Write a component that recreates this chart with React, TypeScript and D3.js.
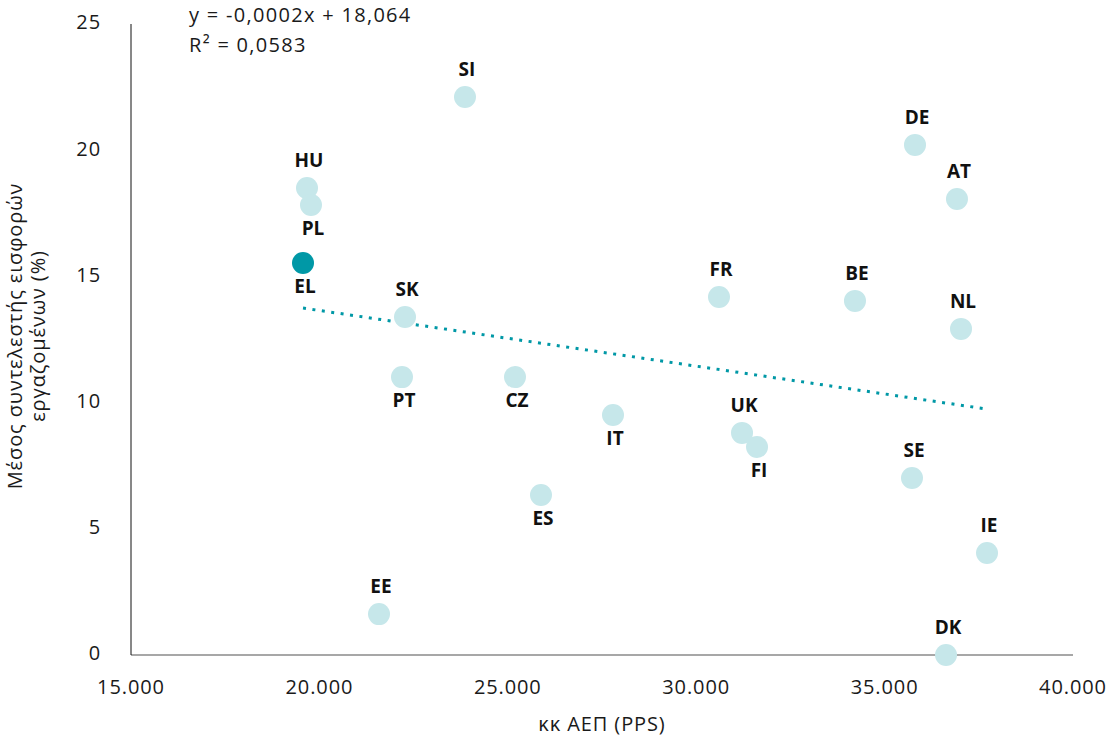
import React from "react";
import * as d3 from "d3";

const countries = ["EL", "HU", "PL", "SI", "SK", "PT", "CZ", "ES", "EE", "IT", "FR", "UK", "FI", "BE", "DE", "AT", "NL", "SE", "IE", "DK"];
const gdpPps = [19565, 19671, 19777, 23864, 22272, 22192, 25191, 25881, 21582, 27792, 30605, 31216, 31614, 34214, 35807, 36921, 37028, 35727, 37718, 36630];
const contribRate = [15.53, 18.5, 17.83, 22.11, 13.39, 11.01, 11.01, 6.34, 1.62, 9.51, 14.18, 8.8, 8.24, 14.03, 20.21, 18.07, 12.92, 7.01, 4.04, 0];
const labelBelow = ["EL", "PL", "PT", "CZ", "ES", "IT", "FI"];
const xTicks = [15000, 20000, 25000, 30000, 35000, 40000];
const yTicks = [0, 5, 10, 15, 20, 25];
const highlight = "EL";

const W = 1111, H = 740;
const M = { left: 131, right: 1073, top: 24, bottom: 655 };
const FONT = "'Open Sans', Lato, sans-serif";
const txt = { fontSize: 20, fontWeight: 400, fill: "#1a1a1a", letterSpacing: 0.9 } as const;

export default function App() {
  const x = d3.scaleLinear().domain([15000, 40000]).range([M.left, M.right]);
  const y = d3.scaleLinear().domain([0, 25]).range([M.bottom, M.top]);
  const fmt = (v: number) => d3.format(",")(v).replace(/,/g, ".");

  // least-squares trend line
  const mx = d3.mean(gdpPps)!;
  const my = d3.mean(contribRate)!;
  let sxy = 0, sxx = 0;
  gdpPps.forEach((v, i) => { sxy += (v - mx) * (contribRate[i] - my); sxx += (v - mx) * (v - mx); });
  const slope = sxy / sxx;
  const icpt = my - slope * mx;
  const [x0, x1] = d3.extent(gdpPps) as [number, number];
  const line = d3.line<number>().x((d) => x(d)).y((d) => y(icpt + slope * d));

  const data = countries.map((c, i) => ({ c, gx: gdpPps[i], r: contribRate[i] }));

  return (
    <svg width={W} height={H} style={{ position: "absolute", left: 0, top: 0, background: "#fff" }} fontFamily={FONT}>
      <line x1={M.left} x2={M.right} y1={M.bottom} y2={M.bottom} stroke="#8a8a8a" strokeWidth={1.3} />
      <line x1={M.left} x2={M.left} y1={M.top} y2={M.bottom} stroke="#111" strokeWidth={1} />
      {yTicks.map((t) => (
        <text key={t} x={101} y={y(t)} textAnchor="end" dominantBaseline="middle" {...txt}>{t}</text>
      ))}
      {xTicks.map((t) => (
        <text key={t} x={x(t)} y={689} textAnchor="middle" dominantBaseline="middle" {...txt}>{fmt(t)}</text>
      ))}
      <text x={602} y={726} textAnchor="middle" dominantBaseline="middle" {...txt}>κκ ΑΕΠ (PPS)</text>
      <g transform={`translate(17, 336) rotate(-90)`}>
        <text x={0} y={0} textAnchor="middle" dominantBaseline="middle" {...txt}>Μέσος συντελεστής εισφορών</text>
        <text x={0} y={23} textAnchor="middle" dominantBaseline="middle" {...txt}>εργαζομένων (%)</text>
      </g>
      <text x={189} y={17} dominantBaseline="middle" {...txt} letterSpacing={1.3}>y = -0,0002x + 18,064</text>
      <text x={189} y={47} dominantBaseline="middle" {...txt} letterSpacing={1.3}>R² = 0,0583</text>
      <path d={line([x0, x1]) || ""} fill="none" stroke="#0098a6" strokeWidth={3} strokeDasharray="3 6.5" />
      {data.map((d) => (
        <circle key={d.c} cx={x(d.gx)} cy={y(d.r)} r={11} fill={d.c === highlight ? "#0098a6" : "#c6e7ea"} />
      ))}
      {data.map((d) => (
        <text key={d.c + "l"} x={x(d.gx) + 2} y={y(d.r) + (labelBelow.includes(d.c) ? 25 : -26)} textAnchor="middle" dominantBaseline="middle" fontSize={19} fontWeight={700} fill="#111">{d.c}</text>
      ))}
    </svg>
  );
}
